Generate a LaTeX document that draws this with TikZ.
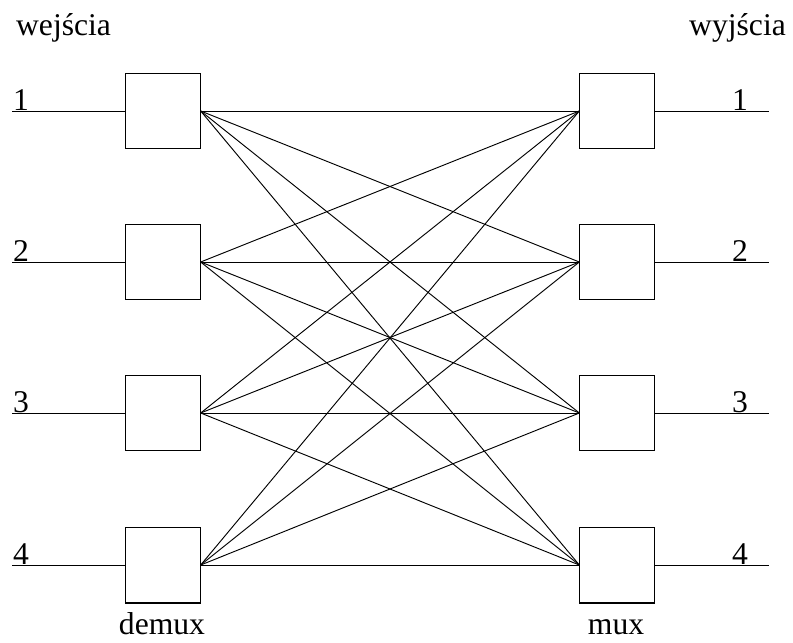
\documentclass[tikz,border=0pt]{standalone}
\usepackage{fontspec}
\setmainfont{Liberation Serif}
\usetikzlibrary{positioning}

\begin{document}
\begin{tikzpicture}[
  x=0.03cm,y=-0.03cm,
  every node/.style={font=\fontsize{27}{32}\selectfont},
  muxbox/.style={draw,line width=1.4pt,minimum size=2.26cm,inner sep=0pt,outer sep=0pt},
  wire/.style={line width=0.8pt},
]
  \useasboundingbox (0,0) rectangle (793,642);

  % headings
  \node[anchor=base west] (inhead) at (12,35) {wejścia};
  \node[anchor=base east] (outhead) at (790,35) {wyjścia};

  % demux column
  \node[muxbox] (dm1) at (163,111) {};
  \node[muxbox] (dm2) at (163,262) {};
  \node[muxbox] (dm3) at (163,413) {};
  \node[muxbox] (dm4) at (163,565) {};
  \node[anchor=base,inner sep=0pt] (dmlabel) at (162,634) {demux};

  % mux column
  \node[muxbox] (mx1) at (617,111) {};
  \node[muxbox] (mx2) at (617,262) {};
  \node[muxbox] (mx3) at (617,413) {};
  \node[muxbox] (mx4) at (617,565) {};
  \node[anchor=base,inner sep=0pt] (mxlabel) at (616,634) {mux};

  % inputs and outputs
  \foreach \i/\y in {1/111,2/262,3/413,4/565}{
    \coordinate (in\i) at (12,\y);
    \coordinate (out\i) at (769,\y);
    \node[anchor=base west,inner sep=0pt] (innum\i) at (13,\y-1) {\i};
    \node[anchor=base west,inner sep=0pt] (outnum\i) at (732,\y-1) {\i};
    \draw[wire] (in\i) -- (dm\i.west);
    \draw[wire] (mx\i.east) -- (out\i);
  }

  % full crossbar
  \foreach \i in {1,...,4}{
    \foreach \j in {1,...,4}{
      \draw[wire] (dm\i.east) -- (mx\j.west);
    }
  }
\end{tikzpicture}
\end{document}
